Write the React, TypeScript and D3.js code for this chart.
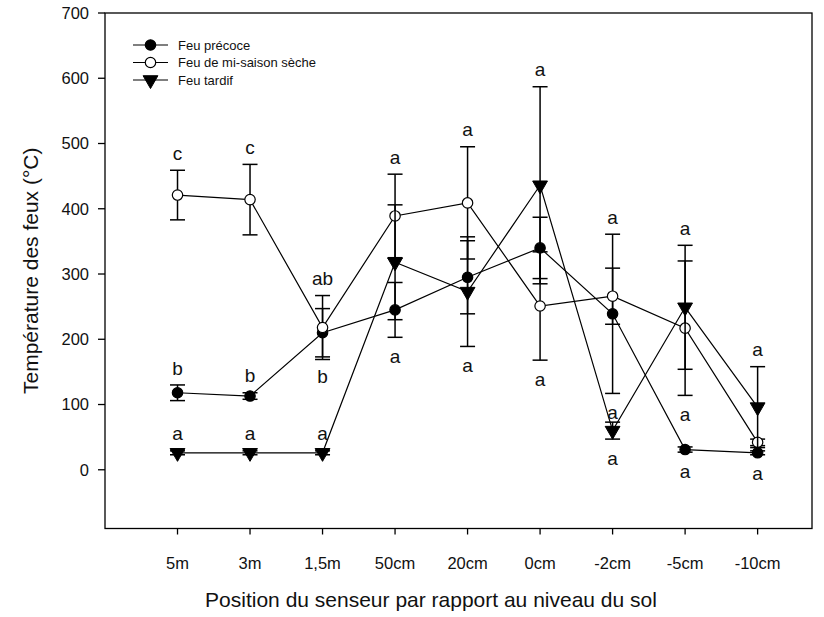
import React from "react";
import * as d3 from "d3";

const categories = ["5m", "3m", "1,5m", "50cm", "20cm", "0cm", "-2cm", "-5cm", "-10cm"];
const yTicks = [0, 100, 200, 300, 400, 500, 600, 700];

const precoce = [118, 113, 210, 245, 295, 340, 239, 31, 26];
const precoceErr = [12, 5, 37, 42, 56, 47, 122, 4, 3];
const miSaison = [421, 414, 218, 389, 409, 251, 266, 217, 42];
const miSaisonErr = [38, 54, 49, 64, 86, 83, 43, 103, 5];
const tardif = [26, 26, 26, 318, 273, 436, 60, 249, 96];
const tardifErr = [3, 3, 3, 88, 84, 151, 13, 95, 62];

const precoceAbove = ["b", "b", "", "", "", "", "a", "", ""];
const precoceBelow = ["", "", "b", "a", "", "", "a", "a", "a"];
const miSaisonAbove = ["c", "c", "ab", "a", "a", "", "", "", ""];
const miSaisonBelow = ["", "", "", "", "", "a", "", "a", ""];
const tardifAbove = ["a", "a", "a", "", "", "a", "", "a", "a"];
const tardifBelow = ["", "", "", "", "a", "", "a", "", ""];

const seriesNames = ["Feu précoce", "Feu de mi-saison sèche", "Feu tardif"];

const W = 824, H = 617;
const left = 105, right = 812, top = 13, bottom = 528.5;
const FONT = "'Liberation Sans', Arial, sans-serif";

export default function App() {
  const x = d3.scaleLinear().domain([0, 9.75]).range([left, right]);
  const y = d3.scaleLinear().domain([-90, 700]).range([bottom, top]);
  const xi = (i: number) => x(i + 1);
  const line = d3.line<number>().x((_, i) => xi(i)).y((v) => y(v));

  const series = [
    { name: seriesNames[0], vals: precoce, err: precoceErr, above: precoceAbove, below: precoceBelow, kind: "filled" },
    { name: seriesNames[1], vals: miSaison, err: miSaisonErr, above: miSaisonAbove, below: miSaisonBelow, kind: "open" },
    { name: seriesNames[2], vals: tardif, err: tardifErr, above: tardifAbove, below: tardifBelow, kind: "tri" },
  ];

  const marker = (kind: string, cx: number, cy: number, key: any) => {
    if (kind === "tri") {
      const tri = d3.symbol().type(d3.symbolTriangle).size(95)();
      return <path key={key} d={tri as string} transform={`translate(${cx},${cy}) rotate(180)`} fill="black" stroke="black" strokeWidth={1} />;
    }
    return <circle key={key} cx={cx} cy={cy} r={5.2} fill={kind === "filled" ? "black" : "white"} stroke="black" strokeWidth={1.2} />;
  };

  const capW = 7.5;

  return (
    <svg width={W} height={H} style={{ position: "absolute", left: 0, top: 0 }} fontFamily={FONT}>
      <rect width={W} height={H} fill="white" />
      <rect x={left} y={top} width={right - left} height={bottom - top} fill="none" stroke="black" strokeWidth={1.3} />
      {yTicks.map((t) => (
        <g key={t}>
          <line x1={left - 7} x2={left} y1={y(t)} y2={y(t)} stroke="black" strokeWidth={1.3} />
          <text x={left - 16} y={y(t)} dy="0.35em" textAnchor="end" fontSize={16.5} fill="#111">{t}</text>
        </g>
      ))}
      {categories.map((c, i) => (
        <g key={c}>
          <line x1={xi(i)} x2={xi(i)} y1={bottom} y2={bottom + 6} stroke="black" strokeWidth={1.3} />
          <text x={xi(i)} y={bottom + 35} dy="0.35em" textAnchor="middle" fontSize={16.5} fill="#111">{c}</text>
        </g>
      ))}
      <text transform={`translate(31,${(top + bottom) / 2}) rotate(-90)`} textAnchor="middle" dy="0.35em" fontSize={21} fill="#111">
        Température des feux (°C)
      </text>
      <text x={431} y={600} textAnchor="middle" dy="0.35em" fontSize={21} fill="#111">
        Position du senseur par rapport au niveau du sol
      </text>

      {series.map((s, si) => (
        <g key={si}>
          <path d={line(s.vals) as string} fill="none" stroke="black" strokeWidth={1.2} />
          {s.vals.map((v, i) => {
            const cx = xi(i);
            const hi = y(v + s.err[i]);
            const lo = y(v - s.err[i]);
            return (
              <g key={i}>
                <line x1={cx} x2={cx} y1={hi} y2={lo} stroke="black" strokeWidth={1.5} />
                <line x1={cx - capW} x2={cx + capW} y1={hi} y2={hi} stroke="black" strokeWidth={1.5} />
                <line x1={cx - capW} x2={cx + capW} y1={lo} y2={lo} stroke="black" strokeWidth={1.5} />
              </g>
            );
          })}
          {s.vals.map((v, i) => marker(s.kind, xi(i), y(v), i))}
        </g>
      ))}

      {series.map((s, si) => (
        <g key={"l" + si}>
          {s.vals.map((v, i) => (
            <g key={i}>
              {s.above[i] && (
                <text x={xi(i)} y={y(v + s.err[i]) - 17} dy="0.35em" textAnchor="middle" fontSize={19} fill="#111">{s.above[i]}</text>
              )}
              {s.below[i] && (
                <text x={xi(i)} y={y(v - s.err[i]) + 19} dy="0.35em" textAnchor="middle" fontSize={19} fill="#111">{s.below[i]}</text>
              )}
            </g>
          ))}
        </g>
      ))}

      {series.map((s, si) => {
        const ly = 45 + si * 17.5;
        return (
          <g key={"lg" + si}>
            <line x1={133} x2={168} y1={ly} y2={ly} stroke="black" strokeWidth={1.2} />
            {marker(s.kind, 150.5, ly, "m")}
            <text x={178} y={ly} dy="0.35em" fontSize={13} fill="#111">{s.name}</text>
          </g>
        );
      })}
    </svg>
  );
}
